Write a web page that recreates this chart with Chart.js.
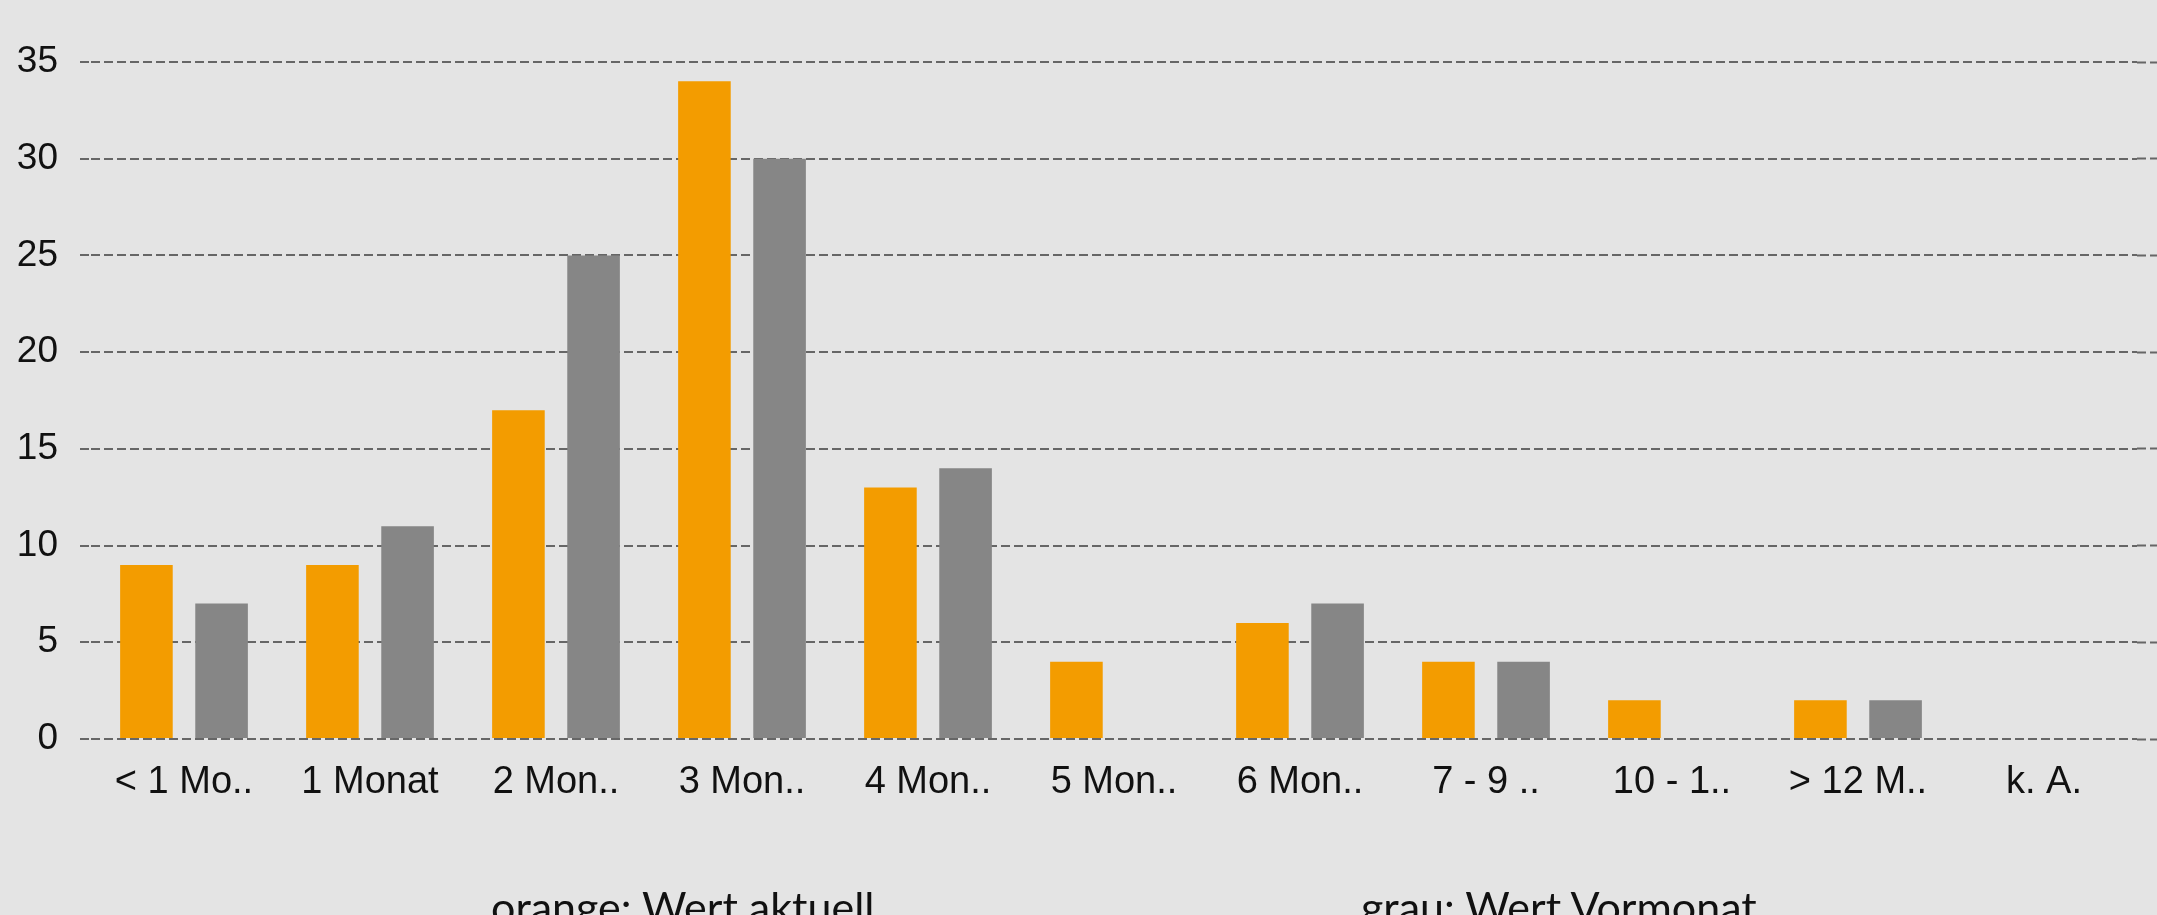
<!DOCTYPE html>
<html>
<head>
<meta charset="utf-8">
<script src="https://cdn.jsdelivr.net/npm/chart.js@4/dist/chart.umd.min.js"></script>
<style>
  html, body { margin: 0; padding: 0; background: #e4e4e4; overflow: hidden; }
  #wrap { position: relative; width: 2157px; height: 915px; background: #e4e4e4; }
  #c { position: absolute; left: 0; top: 0; }
  .note { position: absolute; font-family: Lato, "Open Sans", sans-serif; font-size: 43px; line-height: 1.2; color: #111; white-space: nowrap; }
</style>
</head>
<body>
<div id="wrap">
  <canvas id="c" width="2157" height="915"></canvas>
  <div class="note" id="n1" style="left:491px; top:881px;">orange: Wert aktuell</div>
  <div class="note" id="n2" style="left:1361px; top:881px;">grau: Wert Vormonat</div>
</div>
<script>
const categories = ["< 1 Mo..", "1 Monat", "2 Mon..", "3 Mon..", "4 Mon..", "5 Mon..", "6 Mon..", "7 - 9 ..", "10 - 1..", "> 12 M..", "k. A."];
const wertAktuell = [9, 9, 17, 34, 13, 4, 6, 4, 2, 2, 0];
const wertVormonat = [7, 11, 25, 30, 14, 0, 7, 4, 0, 2, 0];
const yMin = 0, yMax = 35, yStep = 5;

const gridColor = '#666666';
const gridDash = [9, 4];

new Chart(document.getElementById('c'), {
  type: 'bar',
  data: {
    labels: categories,
    datasets: [
      { label: 'Wert aktuell', data: wertAktuell, backgroundColor: '#f39c00', barPercentage: 0.70, categoryPercentage: 0.808 },
      { label: 'Wert Vormonat', data: wertVormonat, backgroundColor: '#868686', barPercentage: 0.70, categoryPercentage: 0.808 }
    ]
  },
  options: {
    responsive: false,
    devicePixelRatio: 1,
    animation: false,
    layout: { padding: { top: 62, left: 0, right: 0, bottom: 0 } },
    plugins: { legend: { display: false }, tooltip: { enabled: false } },
    scales: {
      x: {
        grid: { display: false },
        border: { display: false },
        ticks: { color: '#111', font: { family: 'Liberation Sans, Arial, sans-serif', size: 38 }, padding: 13, maxRotation: 0, autoSkip: false },
        afterFit: (s) => { s.height = 176; }
      },
      y: {
        position: 'left',
        min: yMin, max: yMax,
        ticks: { stepSize: yStep, color: '#111', font: { family: 'Liberation Sans, Arial, sans-serif', size: 37 }, padding: 22 },
        grid: { color: gridColor, lineWidth: 2, drawTicks: true, tickLength: 11, tickColor: gridColor, tickWidth: 2, tickBorderDash: gridDash },
        border: { display: false, dash: gridDash },
        afterFit: (s) => { s.width = 91; }
      },
      y2: {
        position: 'right',
        min: yMin, max: yMax,
        ticks: { stepSize: yStep, display: false },
        grid: { drawOnChartArea: false, drawTicks: true, tickLength: 20, tickColor: gridColor, tickWidth: 2, tickBorderDash: gridDash },
        border: { display: false },
        afterFit: (s) => { s.width = 20; }
      }
    }
  }
});
</script>
</body>
</html>
